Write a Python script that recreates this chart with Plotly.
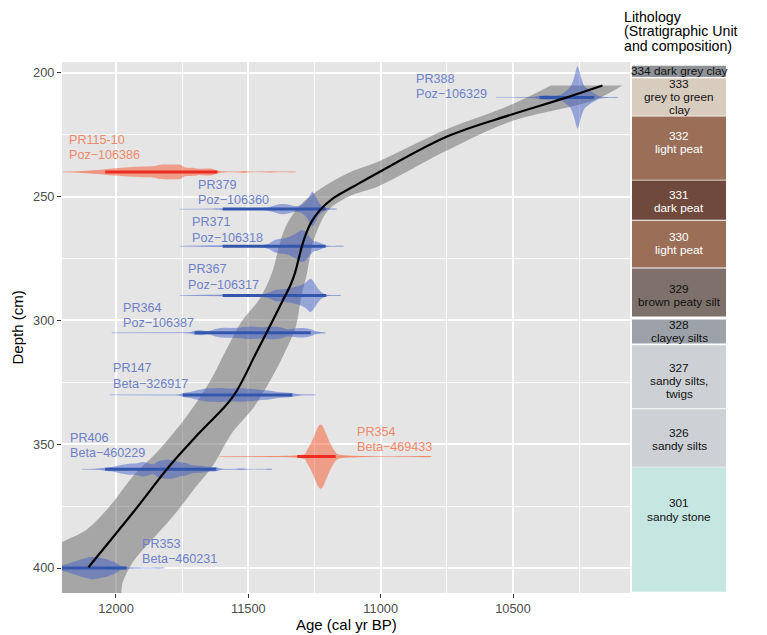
import plotly.graph_objects as go

# ---------------- axis ticks ----------------
x_tick_vals = [12000, 11500, 11000, 10500]
x_tick_text = ["12000", "11500", "11000", "10500"]
x_minor_vals = [12250, 11750, 11250, 10750, 10250]
y_tick_vals = [200, 250, 300, 350, 400]
y_tick_text = ["200", "250", "300", "350", "400"]
y_minor_vals = [225, 275, 325, 375]
x_range = [12204, 10058]
y_range = [410.1, 195.6]

# ---------------- age-depth model ----------------
model_age = [10162, 10305, 10508, 10749, 11003, 11103, 11179, 11229, 11261, 11286,
             11298, 11311, 11324, 11343, 11369, 11410, 11470, 11558, 11684, 11797,
             11935, 12104]
model_depth = [205.1, 210.2, 216.9, 225.7, 239.9, 245.9, 250.6, 255.4, 260.1, 266.1,
               270.2, 275.6, 280.9, 286.3, 291.7, 300.5, 313.0, 330.8, 345.3, 358.7,
               377.5, 399.7]

# band: younger / deeper edge (top -> bottom)
band_young_age = [10087, 10192, 10508, 10756, 11008, 11120, 11196, 11233, 11259, 11278,
                  11302, 11320, 11357, 11421, 11485, 11560, 11635, 11696, 11771, 11861,
                  11936, 11974, 11992]
band_young_depth = [205.1, 210.9, 219.6, 231.7, 245.8, 249.9, 255.2, 262.0, 270.0, 280.6,
                    291.5, 302.3, 311.7, 325.0, 335.9, 345.2, 358.9, 366.9, 377.4, 388.3,
                    397.6, 405.6, 412.5]
# band: older / shallower edge (bottom -> top)
band_old_age = [12286, 12286, 12203, 12109, 12023, 11936, 11835, 11733, 11647, 11583,
                11523, 11459, 11410, 11384, 11358, 11308, 11233, 11120, 11008, 10756,
                10508, 10357]
band_old_depth = [420.5, 394.7, 389.5, 384.3, 375.0, 362.9, 352.0, 338.7, 325.0, 311.7,
                  300.0, 291.5, 280.6, 270.0, 262.0, 253.9, 247.2, 240.3, 235.8, 223.0,
                  212.9, 205.1]

# ---------------- dated samples ----------------
date_names = ["PR388", "PR115-10", "PR379", "PR371", "PR367", "PR364", "PR147",
              "PR406", "PR354", "PR353"]
date_labs = ["Poz−106329", "Poz−106386", "Poz−106360", "Poz−106318", "Poz−106317",
             "Poz−106387", "Beta−326917", "Beta−460229", "Beta−469433", "Beta−460231"]
date_depths = [209.9, 240.0, 255.0, 270.0, 289.9, 305.0, 330.1, 360.1, 355.0, 400.0]
date_group = ["blue", "red", "blue", "blue", "blue", "blue", "blue", "blue", "red", "blue"]
date_hpd_lo = [10400, 12041, 11597, 11597, 11597, 11703, 11747, 12041, 11315, 12300]
date_hpd_hi = [10193, 11617, 11208, 11208, 11206, 11264, 11334, 11621, 11170, 11960]
label_age = [10865, 12177, 11692, 11714, 11729, 11974, 12011, 12173, 11091, 11900]
label_depth = [202.4, 227.0, 245.2, 260.4, 279.4, 294.9, 319.3, 347.3, 345.0, 390.3]

pr388_age = [10564, 10470, 10420, 10395, 10375, 10350, 10325, 10310, 10295, 10282, 10270,
             10262, 10256, 10250, 10242, 10230, 10220, 10205, 10190, 10180, 10160, 10130, 10105]
pr388_h = [0.05, 0.1, 0.3, 0.7, 0.9, 0.8, 1.0, 1.8, 3.0, 4.5, 7.8,
           11.0, 12.7, 11.0, 7.8, 4.5, 3.6, 2.4, 1.5, 0.8, 0.3, 0.1, 0.05]

pr115_age = [12200, 12150, 12100, 12041, 11990, 11941, 11890, 11853, 11835, 11790, 11755,
             11740, 11705, 11690, 11660, 11637, 11615, 11590, 11540, 11515, 11490, 11450,
             11414, 11380, 11321]
pr115_h = [0.05, 0.2, 0.6, 1.1, 1.6, 2.0, 2.2, 2.4, 2.9, 3.0, 2.8,
           1.8, 1.6, 1.3, 1.4, 1.3, 0.5, 0.15, 0.1, 0.3, 0.05,
           0.05, 0.2, 0.05, 0.03]

pr379_age = [11759, 11650, 11597, 11500, 11430, 11400, 11380, 11360, 11340, 11320, 11300,
             11280, 11265, 11258, 11245, 11230, 11215, 11200, 11166]
pr379_h = [0.05, 0.1, 0.35, 0.4, 0.6, 1.4, 2.0, 2.0, 1.5, 1.2, 1.6,
           3.5, 6.0, 7.0, 5.0, 2.0, 0.8, 0.3, 0.05]

pr371_age = [11759, 11597, 11450, 11420, 11400, 11380, 11360, 11340, 11320, 11300, 11285,
             11270, 11255, 11240, 11225, 11210, 11180, 11140]
pr371_h = [0.05, 0.35, 0.5, 1.2, 2.5, 3.0, 3.2, 4.0, 5.0, 6.4, 6.0,
           4.0, 2.2, 1.8, 1.2, 0.4, 0.1, 0.05]

pr367_age = [11759, 11597, 11450, 11420, 11400, 11370, 11340, 11310, 11285, 11265, 11250,
             11235, 11220, 11200, 11150]
pr367_h = [0.05, 0.35, 0.5, 1.2, 2.2, 2.5, 3.0, 3.8, 5.0, 6.7, 5.0,
           2.5, 1.0, 0.3, 0.05]

pr364_age = [12016, 11850, 11720, 11703, 11680, 11650, 11620, 11590, 11560, 11530, 11500,
             11470, 11440, 11410, 11380, 11350, 11320, 11290, 11265, 11245, 11220, 11208]
pr364_h = [0.05, 0.1, 0.3, 0.8, 1.0, 0.7, 1.6, 2.0, 2.0, 2.2, 2.5,
           2.4, 2.3, 2.6, 2.3, 1.5, 1.8, 1.9, 1.4, 0.6, 0.2, 0.05]

pr147_age = [12023, 11850, 11760, 11747, 11720, 11690, 11660, 11630, 11600, 11570, 11540,
             11510, 11480, 11450, 11420, 11390, 11360, 11334, 11310, 11280, 11246]
pr147_h = [0.05, 0.1, 0.3, 0.8, 1.2, 2.0, 2.6, 2.7, 2.8, 2.5, 2.7,
           2.6, 2.4, 2.0, 1.8, 1.2, 1.0, 0.8, 0.3, 0.15, 0.05]

pr406_age = [12129, 12080, 12041, 12010, 11985, 11950, 11920, 11900, 11880, 11860, 11840,
             11810, 11780, 11760, 11740, 11710, 11680, 11650, 11621, 11600, 11560, 11523,
             11500, 11450, 11421, 11410]
pr406_h = [0.05, 0.15, 0.6, 1.0, 1.6, 2.2, 2.4, 2.9, 2.5, 2.0, 3.2,
           3.8, 3.6, 2.8, 2.6, 1.6, 1.4, 1.0, 0.8, 0.2, 0.1, 0.3,
           0.05, 0.05, 0.2, 0.05]

pr354_age = [11609, 11500, 11400, 11330, 11300, 11285, 11280, 11262, 11246, 11235, 11227,
             11219, 11208, 11192, 11174, 11165, 11150, 11120, 11050, 10950, 10808]
pr354_h = [0.05, 0.1, 0.2, 0.4, 0.7, 1.2, 2.3, 5.7, 9.7, 12.3, 13.0,
           12.3, 9.7, 5.7, 2.3, 1.2, 0.7, 0.4, 0.15, 0.08, 0.05]

pr353_age = [12300, 12250, 12200, 12160, 12120, 12090, 12060, 12030, 12000, 11980, 11960,
             11920, 11880, 11816]
pr353_h = [0.2, 0.5, 1.2, 2.5, 3.8, 4.5, 4.0, 3.3, 2.0, 0.8, 0.4,
           0.2, 0.1, 0.05]

date_ages = [pr388_age, pr115_age, pr379_age, pr371_age, pr367_age, pr364_age,
             pr147_age, pr406_age, pr354_age, pr353_age]
date_h = [pr388_h, pr115_h, pr379_h, pr371_h, pr367_h, pr364_h,
          pr147_h, pr406_h, pr354_h, pr353_h]

# ---------------- lithology ----------------
lith_top = [197.1, 202.2, 217.6, 243.5, 259.7, 279.0, 299.6, 310.0, 335.9, 359.3]
lith_bottom = [201.7, 217.3, 243.2, 259.3, 278.6, 298.4, 309.3, 335.5, 359.1, 409.6]
lith_color = ["#8e9195", "#d8ccbf", "#9a6e57", "#6f4a3c", "#9a6e57", "#7e716c",
              "#9da2a9", "#cdd0d4", "#cdd0d4", "#c6e6e2"]
lith_lines = [["334 dark grey clay"], ["333", "grey to green", "clay"],
              ["332", "light peat"], ["331", "dark peat"], ["330", "light peat"],
              ["329", "brown peaty silt"], ["328", "clayey silts"],
              ["327", "sandy silts,", "twigs"], ["326", "sandy silts"],
              ["301", "sandy stone"]]
lith_text_depth = [199.4, 209.8, 228.0, 252.0, 269.0, 290.0, 304.6, 324.5, 348.0, 376.6]
lith_text_color = ["#111111", "#111111", "#ffffff", "#ffffff", "#ffffff", "#111111",
                   "#111111", "#111111", "#111111", "#111111"]
lith_title = ["Lithology", "(Stratigraphic Unit", "and composition)"]

# ---------------- styling ----------------
PAGE_OFF = 8                      # default body margin of the html page
W, H = 767 - PAGE_OFF, 635 - PAGE_OFF
PL, PR_, PT, PB = 62, 630, 62, 593  # plot area in page pixels
L, T = PL - PAGE_OFF, PT - PAGE_OFF
R = W - (PR_ - PAGE_OFF)
B = H - (PB - PAGE_OFF)
plot_w = PR_ - PL
plot_h = PB - PT
cm_per_px = (y_range[0] - y_range[1]) / plot_h
FONT = "Liberation Sans, Arial, Helvetica, sans-serif"
fill_col = {"blue": "rgba(65,92,200,0.48)", "red": "rgba(248,85,45,0.50)"}
hpd_col = {"blue": "#3356ad", "red": "#ec2b22"}
faint_col = {"blue": "rgba(65,92,200,0.22)", "red": "rgba(248,85,45,0.30)"}
text_col = {"blue": "#6d80c8", "red": "#f2896a"}


def xp(px):
    return (px - PL) / plot_w


def yp(py):
    return (PB - py) / plot_h


fig = go.Figure()

# uncertainty band
fig.add_trace(go.Scatter(
    x=band_young_age + band_old_age, y=band_young_depth + band_old_depth,
    fill="toself", fillcolor="rgba(115,115,115,0.55)", line=dict(width=0),
    mode="lines", line_shape="spline", hoverinfo="skip", showlegend=False))

# dated samples
for i in range(len(date_names)):
    g = date_group[i]
    ages = date_ages[i]
    hh = date_h[i]
    d = date_depths[i]
    fig.add_trace(go.Scatter(
        x=[ages[0], ages[-1]], y=[d, d], mode="lines",
        line=dict(color=faint_col[g], width=1), hoverinfo="skip", showlegend=False))
    xs = ages + ages[::-1]
    ys = [d - v for v in hh] + [d + v for v in hh[::-1]]
    fig.add_trace(go.Scatter(
        x=xs, y=ys, fill="toself", fillcolor=fill_col[g], mode="lines",
        line=dict(width=0), line_shape="spline", hoverinfo="skip", showlegend=False))
    fig.add_trace(go.Scatter(
        x=[date_hpd_lo[i], date_hpd_hi[i]], y=[d, d], mode="lines",
        line=dict(color=hpd_col[g], width=3), hoverinfo="skip", showlegend=False))

# model curve
fig.add_trace(go.Scatter(
    x=model_age, y=model_depth, mode="lines", line=dict(color="black", width=2.2),
    line_shape="spline", hoverinfo="skip", showlegend=False))

annotations = []
line_gap = 15.5 * cm_per_px
for i in range(len(date_names)):
    for k, txt in enumerate([date_names[i], date_labs[i]]):
        annotations.append(dict(
            x=label_age[i], y=label_depth[i] + k * line_gap, xref="x", yref="y",
            text=txt, showarrow=False, xanchor="left", yanchor="middle", xshift=-2,
            font=dict(family=FONT, size=12.6, color=text_col[date_group[i]])))

# lithology column
px0 = xp(632)
px1 = xp(726)
pxc = (px0 + px1) / 2
shapes = []
lith_gap = 13.3 * cm_per_px
for i in range(len(lith_top)):
    shapes.append(dict(type="rect", xref="paper", yref="y", x0=px0, x1=px1,
                       y0=lith_top[i], y1=lith_bottom[i], fillcolor=lith_color[i],
                       line=dict(width=0), layer="above"))
    n = len(lith_lines[i])
    for k, txt in enumerate(lith_lines[i]):
        annotations.append(dict(
            x=pxc, y=lith_text_depth[i] + (k - (n - 1) / 2) * lith_gap,
            xref="paper", yref="y", text=txt, showarrow=False,
            xanchor="center", yanchor="middle",
            font=dict(family=FONT, size=11.8, color=lith_text_color[i])))

for k, txt in enumerate(lith_title):
    annotations.append(dict(
        x=xp(622), y=yp(16.5 + 14.5 * k), xref="paper", yref="paper",
        text=txt, showarrow=False, xanchor="left", yanchor="middle",
        font=dict(family=FONT, size=14.2, color="black")))

# axis titles
annotations.append(dict(x=xp(17), y=0.5, xref="paper", yref="paper",
                        text="Depth (cm)", textangle=-90, showarrow=False,
                        xanchor="center", yanchor="middle",
                        font=dict(family=FONT, size=15, color="black")))
annotations.append(dict(x=0.5, y=yp(624), xref="paper", yref="paper",
                        text="Age (cal yr BP)", showarrow=False,
                        xanchor="center", yanchor="middle",
                        font=dict(family=FONT, size=15, color="black")))

fig.update_layout(
    width=W, height=H, margin=dict(l=L, r=R, t=T, b=B, autoexpand=False),
    paper_bgcolor="white", plot_bgcolor="#e5e5e5",
    annotations=annotations, shapes=shapes, showlegend=False,
    xaxis=dict(range=x_range, tickvals=x_tick_vals, ticktext=x_tick_text,
               showgrid=True, gridcolor="white", gridwidth=1.6, zeroline=False,
               ticks="outside", ticklen=4, tickwidth=1.4, tickcolor="#333333",
               tickfont=dict(family=FONT, size=12.8, color="#4d4d4d"),
               minor=dict(tickvals=x_minor_vals, showgrid=True, gridcolor="white",
                          gridwidth=0.8, ticks=""),
               showline=False, automargin=False),
    yaxis=dict(range=y_range, tickvals=y_tick_vals, ticktext=y_tick_text,
               showgrid=True, gridcolor="white", gridwidth=1.6, zeroline=False,
               ticks="outside", ticklen=4, tickwidth=1.4, tickcolor="#333333",
               tickfont=dict(family=FONT, size=12.8, color="#4d4d4d"),
               minor=dict(tickvals=y_minor_vals, showgrid=True, gridcolor="white",
                          gridwidth=0.8, ticks=""),
               showline=False, automargin=False),
)

fig.write_html("out.html")
